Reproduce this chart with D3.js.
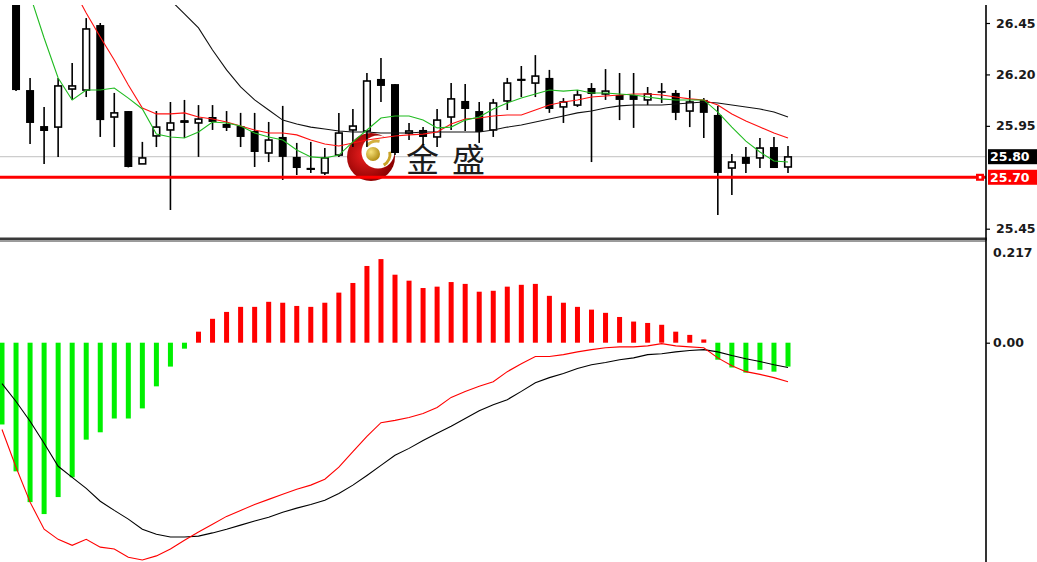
<!DOCTYPE html>
<html><head><meta charset="utf-8">
<script src="https://cdn.jsdelivr.net/npm/d3@7"></script>
<style>html,body{margin:0;padding:0;background:#fff;overflow:hidden}</style>
</head><body><svg id="c" width="1037" height="562"></svg>
<script>
// ---- data ----
const opens  = [26.70,26.60,26.124,25.949,25.944,26.129,26.124,26.440,25.993,26.022,25.765,25.901,25.930,25.969,25.964,25.993,25.959,25.949,25.925,25.818,25.896,25.799,25.740,25.721,25.808,25.930,25.925,26.178,26.153,25.915,25.930,25.896,25.993,26.071,26.022,25.930,26.071,26.173,26.158,26.183,26.042,26.051,26.134,26.105,26.100,26.100,26.076,26.115,26.110,26.022,26.076,26.003,25.745,25.799,25.794,25.847,25.750];
const highs  = [26.78,26.66,26.183,26.042,26.183,26.256,26.474,26.450,26.110,26.022,25.872,26.022,26.066,26.076,26.051,26.051,26.022,26.013,26.013,25.969,26.047,25.867,25.872,25.842,26.013,26.032,26.207,26.280,26.153,25.964,25.944,26.032,26.158,26.153,26.066,26.081,26.183,26.241,26.294,26.222,26.085,26.124,26.158,26.226,26.207,26.207,26.139,26.158,26.124,26.124,26.085,26.047,25.813,25.847,25.891,25.896,25.852];
const lows   = [26.62,26.119,25.862,25.765,25.799,26.076,26.090,25.896,25.847,25.748,25.765,25.847,25.541,25.891,25.799,25.930,25.925,25.847,25.750,25.774,25.687,25.711,25.721,25.711,25.799,25.847,25.847,26.066,25.808,25.881,25.857,25.847,25.930,25.925,25.867,25.896,26.027,26.090,26.090,26.013,25.964,26.042,25.774,26.076,25.978,25.940,26.051,26.061,25.978,25.944,25.891,25.517,25.614,25.721,25.745,25.745,25.721];
const closes = [26.65,26.124,25.964,25.925,26.144,26.144,26.421,25.978,26.013,25.750,25.794,25.944,25.964,25.974,25.983,25.969,25.940,25.896,25.823,25.881,25.799,25.745,25.742,25.794,25.915,25.949,26.168,26.144,25.818,25.925,25.896,25.978,26.081,26.032,25.920,26.061,26.158,26.175,26.192,26.032,26.066,26.100,26.105,26.119,26.076,26.076,26.105,26.113,26.013,26.066,26.013,25.721,25.774,25.765,25.842,25.745,25.799];
const maFast = [26.902,26.756,26.586,26.377,26.183,26.076,26.124,26.124,26.134,26.085,26.032,25.910,25.896,25.891,25.920,25.969,25.964,25.949,25.915,25.896,25.881,25.833,25.799,25.794,25.808,25.872,25.930,25.988,25.998,25.998,25.978,25.940,25.944,25.978,25.993,26.032,26.061,26.085,26.105,26.124,26.119,26.124,26.110,26.110,26.105,26.100,26.090,26.081,26.076,26.076,26.076,26.017,25.944,25.876,25.823,25.779,25.774];
const maMid  = [27.22,27.098,26.976,26.854,26.746,26.625,26.499,26.382,26.270,26.149,26.037,26.008,26.008,26.013,25.993,25.983,25.969,25.949,25.930,25.915,25.915,25.906,25.881,25.862,25.852,25.867,25.881,25.891,25.901,25.906,25.910,25.920,25.959,25.983,25.988,25.998,26.003,26.003,26.027,26.051,26.066,26.076,26.090,26.095,26.100,26.105,26.105,26.100,26.090,26.081,26.076,26.051,26.008,25.974,25.944,25.915,25.891];
const maSlow = [27.44,27.365,27.29,27.219,27.146,27.073,27.0,26.927,26.854,26.781,26.708,26.635,26.562,26.494,26.426,26.319,26.222,26.139,26.076,26.027,25.978,25.959,25.944,25.935,25.925,25.920,25.920,25.915,25.915,25.915,25.920,25.920,25.920,25.920,25.920,25.930,25.944,25.954,25.969,25.983,25.998,26.013,26.022,26.037,26.047,26.051,26.051,26.051,26.056,26.061,26.066,26.061,26.051,26.042,26.032,26.017,25.993];
const macdHist = [-0.178,-0.280,-0.347,-0.373,-0.336,-0.293,-0.211,-0.195,-0.165,-0.165,-0.143,-0.095,-0.052,-0.013,0.024,0.052,0.067,0.078,0.078,0.089,0.087,0.080,0.078,0.087,0.109,0.130,0.167,0.182,0.148,0.135,0.119,0.122,0.132,0.128,0.111,0.113,0.122,0.126,0.128,0.102,0.087,0.078,0.072,0.065,0.056,0.046,0.043,0.039,0.024,0.017,0.007,-0.037,-0.054,-0.065,-0.059,-0.063,-0.052];
const macdLine = [-0.189,-0.271,-0.347,-0.406,-0.428,-0.441,-0.428,-0.445,-0.449,-0.467,-0.473,-0.464,-0.449,-0.430,-0.412,-0.395,-0.378,-0.365,-0.352,-0.341,-0.330,-0.319,-0.310,-0.297,-0.271,-0.237,-0.204,-0.174,-0.169,-0.163,-0.154,-0.141,-0.119,-0.106,-0.095,-0.085,-0.063,-0.046,-0.030,-0.030,-0.026,-0.020,-0.015,-0.011,-0.009,-0.009,-0.007,-0.002,-0.007,-0.009,-0.011,-0.033,-0.050,-0.063,-0.069,-0.076,-0.085];
const signalLine = [-0.089,-0.128,-0.171,-0.219,-0.269,-0.293,-0.317,-0.345,-0.365,-0.384,-0.406,-0.417,-0.423,-0.423,-0.421,-0.414,-0.406,-0.397,-0.388,-0.380,-0.369,-0.360,-0.352,-0.343,-0.328,-0.310,-0.289,-0.267,-0.245,-0.230,-0.213,-0.197,-0.182,-0.165,-0.148,-0.135,-0.124,-0.106,-0.087,-0.076,-0.067,-0.056,-0.048,-0.043,-0.037,-0.033,-0.026,-0.024,-0.020,-0.017,-0.015,-0.020,-0.028,-0.035,-0.041,-0.048,-0.054];
const priceTicks = [26.45, 26.20, 25.95, 25.45];
const bidPrice = 25.80;
const levelPrice = 25.70;
const macdMax = 0.217;
const macdTicks = [0];
const logoChars = ["金", "盛"];

// ---- chart ----
const svg = d3.select("#c");
const W = 1037, H = 562, axisX = 986;
const n = closes.length;
const x = d3.scaleLinear().domain([0, n - 1]).range([2, 788]);
const yP = d3.scaleLinear().domain([25.45, 26.45]).range([228.7, 23]);
const yM = d3.scaleLinear().domain([0, macdMax]).range([342.7, 243]);

const defs = svg.append("defs");
defs.append("clipPath").attr("id", "cpTop").append("rect").attr("x", 0).attr("y", 5).attr("width", axisX).attr("height", 232);
defs.append("clipPath").attr("id", "cpBot").append("rect").attr("x", 0).attr("y", 242).attr("width", axisX).attr("height", H - 242);
const rg = defs.append("radialGradient").attr("id", "gRed").attr("cx", "40%").attr("cy", "45%").attr("r", "60%");
rg.append("stop").attr("offset", "0%").attr("stop-color", "#f02020");
rg.append("stop").attr("offset", "100%").attr("stop-color", "#8a0000");
const gg = defs.append("radialGradient").attr("id", "gGold").attr("cx", "35%").attr("cy", "35%").attr("r", "70%");
gg.append("stop").attr("offset", "0%").attr("stop-color", "#f7e27a");
gg.append("stop").attr("offset", "100%").attr("stop-color", "#b08a10");

svg.append("rect").attr("width", W).attr("height", H).attr("fill", "#fff");

// top panel
const gTop = svg.append("g").attr("clip-path", "url(#cpTop)");
gTop.append("line").attr("x1", 0).attr("x2", axisX).attr("y1", yP(bidPrice)).attr("y2", yP(bidPrice))
  .attr("stroke", "#c0c0c0").attr("stroke-width", 1);

// logo (watermark) behind candles
const logo = gTop.append("g");
const lc = [371, 157];
logo.append("circle").attr("cx", lc[0]).attr("cy", lc[1]).attr("r", 24).attr("fill", "url(#gRed)");
logo.append("circle").attr("cx", lc[0] + 7).attr("cy", lc[1] - 5).attr("r", 16.5).attr("fill", "#fff");
const arc = d3.arc().innerRadius(11.5).outerRadius(14.5);
logo.append("path").attr("transform", `translate(${lc[0]+6},${lc[1]-3})`)
  .attr("d", arc({startAngle: -0.9, endAngle: 0.2})).attr("fill", "#d4b040");
logo.append("path").attr("transform", `translate(${lc[0]+6},${lc[1]-3})`)
  .attr("d", arc({startAngle: 1.4, endAngle: 2.6})).attr("fill", "#c9a227");
logo.append("circle").attr("cx", lc[0] + 2).attr("cy", lc[1] - 3).attr("r", 7).attr("fill", "url(#gGold)");
logo.selectAll("text.lg").data(logoChars).join("text").attr("class", "lg")
  .attr("x", (d, i) => 406 + i * 46).attr("y", 172)
  .attr("font-family", "'Noto Sans CJK SC'").attr("font-size", 33).attr("fill", "#1c1c1c")
  .text(d => d);

// candles
const idx = d3.range(n);
const cg = gTop.append("g");
cg.selectAll("line.w").data(idx).join("line").attr("class", "w")
  .attr("x1", i => x(i)).attr("x2", i => x(i))
  .attr("y1", i => yP(highs[i])).attr("y2", i => yP(lows[i]))
  .attr("stroke", "#000").attr("stroke-width", 1.6);
cg.selectAll("rect.b").data(idx).join("rect").attr("class", "b")
  .attr("x", i => x(i) - (closes[i] >= opens[i] ? 3.3 : 4))
  .attr("width", i => closes[i] >= opens[i] ? 6.6 : 8)
  .attr("y", i => Math.min(yP(opens[i]), yP(closes[i])))
  .attr("height", i => Math.max(0.01, Math.abs(yP(opens[i]) - yP(closes[i]))))
  .attr("fill", i => closes[i] >= opens[i] ? "#fff" : "#000")
  .attr("stroke", "#000").attr("stroke-width", i => closes[i] >= opens[i] ? 1.6 : 0);
cg.selectAll("line.d").data(idx.filter(i => Math.abs(yP(opens[i]) - yP(closes[i])) < 1.5)).join("line").attr("class", "d")
  .attr("x1", i => x(i) - 4).attr("x2", i => x(i) + 4)
  .attr("y1", i => yP(opens[i])).attr("y2", i => yP(opens[i]))
  .attr("stroke", "#000").attr("stroke-width", 1.6);

// moving averages
const lineP = d3.line().x((d, i) => x(i)).y(d => yP(d));
gTop.append("path").attr("d", lineP(maSlow)).attr("fill", "none").attr("stroke", "#111").attr("stroke-width", 1.1);
gTop.append("path").attr("d", lineP(maMid)).attr("fill", "none").attr("stroke", "#ff1010").attr("stroke-width", 1.1);
gTop.append("path").attr("d", lineP(maFast)).attr("fill", "none").attr("stroke", "#20bb20").attr("stroke-width", 1.1);

// level line 25.70
gTop.append("line").attr("x1", 0).attr("x2", axisX).attr("y1", yP(levelPrice)).attr("y2", yP(levelPrice))
  .attr("stroke", "#ff0000").attr("stroke-width", 3);
gTop.append("rect").attr("x", 976).attr("y", yP(levelPrice) - 3.5).attr("width", 8).attr("height", 7).attr("fill", "#ff0000");
gTop.append("rect").attr("x", 978.8).attr("y", yP(levelPrice) - 1.3).attr("width", 2.6).attr("height", 2.6).attr("fill", "#fff");

// separator
svg.append("rect").attr("x", 0).attr("y", 237.5).attr("width", axisX + 1).attr("height", 3).attr("fill", "#3a3a3a");
svg.append("line").attr("x1", 0).attr("x2", axisX).attr("y1", 241.5).attr("y2", 241.5).attr("stroke", "#9a9a9a").attr("stroke-width", 1);

// lower panel
const bot = svg.append("g").attr("clip-path", "url(#cpBot)");
bot.selectAll("rect.h").data(idx).join("rect").attr("class", "h")
  .attr("x", i => x(i) - 2.5).attr("width", 5)
  .attr("y", i => Math.min(yM(0), yM(macdHist[i])))
  .attr("height", i => Math.abs(yM(macdHist[i]) - yM(0)))
  .attr("fill", i => macdHist[i] >= 0 ? "#ff0000" : "#00f000");
const lineM = d3.line().x((d, i) => x(i)).y(d => yM(d));
bot.append("path").attr("d", lineM(signalLine)).attr("fill", "none").attr("stroke", "#000").attr("stroke-width", 1.1);
bot.append("path").attr("d", lineM(macdLine)).attr("fill", "none").attr("stroke", "#ff0000").attr("stroke-width", 1.1);

// right axis
svg.append("line").attr("x1", axisX).attr("x2", axisX).attr("y1", 5).attr("y2", H).attr("stroke", "#000").attr("stroke-width", 1.6);
const fontFam = "'DejaVu Sans', Verdana, sans-serif";
const axP = d3.axisRight(yP).tickValues(priceTicks).tickSize(4).tickPadding(6).tickFormat(d3.format(".2f"));
const gP = svg.append("g").attr("transform", `translate(${axisX},0)`).call(axP);
gP.select(".domain").remove();
gP.selectAll("text").attr("font-family", fontFam).attr("font-size", 12.5).attr("font-weight", "bold").attr("fill", "#1a1a1a");
gP.selectAll("line").attr("stroke", "#000").attr("stroke-width", 1.2);

const axM = d3.axisRight(yM).tickValues(macdTicks).tickSize(4).tickPadding(3).tickFormat(d3.format(".2f"));
const gM = svg.append("g").attr("transform", `translate(${axisX},0)`).call(axM);
gM.select(".domain").remove();
gM.selectAll("text").attr("font-family", fontFam).attr("font-size", 12.5).attr("font-weight", "bold").attr("fill", "#1a1a1a");
gM.selectAll("line").attr("stroke", "#000").attr("stroke-width", 1.2);
svg.append("text").attr("x", 993).attr("y", yM(macdMax) + 10).attr("dy", "0.32em")
  .attr("font-family", fontFam).attr("font-size", 12.5).attr("font-weight", "bold").attr("fill", "#1a1a1a")
  .text(d3.format(".3f")(macdMax));

// price tags
function tag(price, bg) {
  const yy = yP(price);
  svg.append("rect").attr("x", 988).attr("y", yy - 7.5).attr("width", 50).attr("height", 15).attr("fill", bg);
  svg.append("text").attr("x", 990).attr("y", yy).attr("dy", "0.36em")
    .attr("font-family", fontFam).attr("font-size", 12.5).attr("font-weight", "bold").attr("fill", "#fff")
    .text(d3.format(".2f")(price));
}
tag(bidPrice, "#000");
tag(levelPrice, "#ff0000");
</script></body></html>
